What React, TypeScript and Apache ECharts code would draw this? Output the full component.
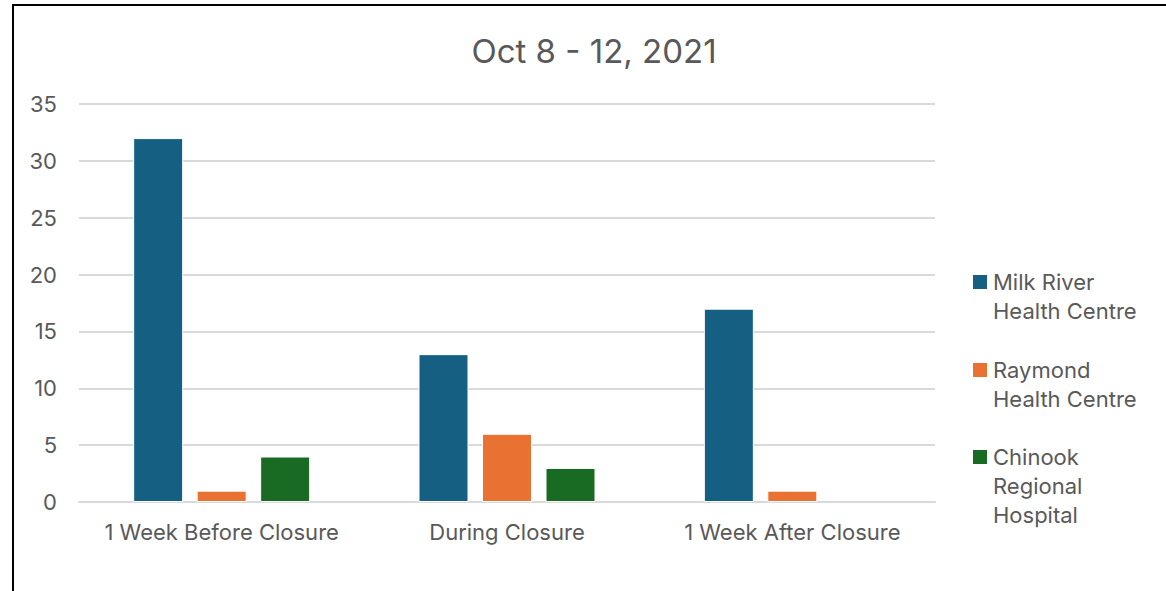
import React, { useEffect, useRef } from "react";
import * as echarts from "echarts";

const title = "Oct 8 - 12, 2021";
const categories = ["1 Week Before Closure", "During Closure", "1 Week After Closure"];
const seriesNames = ["Milk River Health Centre", "Raymond Health Centre", "Chinook Regional Hospital"];
const legendLines = [["Milk River", "Health Centre"], ["Raymond", "Health Centre"], ["Chinook", "Regional", "Hospital"]];
const milkRiver = [32, 13, 17];
const raymond = [1, 6, 1];
const chinook = [4, 3, 0];
const colors = ["#156082", "#E97132", "#196B24"];
const yTicks = { min: 0, max: 35, interval: 5 };

const FONT = "Inter";
const TEXT = "#595959";

export default function App() {
  const ref = useRef<HTMLDivElement>(null);
  useEffect(() => {
    if (!ref.current) return;
    const chart = echarts.init(ref.current, undefined, { renderer: "svg" });
    const values = [milkRiver, raymond, chinook];
    const legendTops = [282, 370, 457];
    const legendGraphics: any[] = [];
    legendLines.forEach((lines, i) => {
      legendGraphics.push({
        type: "rect",
        shape: { x: 973, y: legendTops[i] - 7, width: 14, height: 14 },
        style: { fill: colors[i] },
      });
      lines.forEach((ln, j) => {
        legendGraphics.push({
          type: "text",
          x: 993,
          y: legendTops[i] + j * 29,
          style: {
            text: ln,
            fill: TEXT,
            font: `22px '${FONT}'`,
            verticalAlign: "middle",
            align: "left",
          },
        });
      });
    });
    chart.setOption({
      animation: false,
      backgroundColor: "#ffffff",
      title: {
        text: title,
        left: 589,
        top: 29,
        textAlign: "center",
        textStyle: { color: TEXT, fontFamily: FONT, fontSize: 33, fontWeight: "normal" },
      },
      grid: { left: 79, right: 231, top: 104, bottom: 89, containLabel: false },
      xAxis: {
        type: "category",
        data: categories,
        axisLine: { lineStyle: { color: "#d9d9d9", width: 2 } },
        axisTick: { show: false },
        axisLabel: { color: TEXT, fontFamily: FONT, fontSize: 22, margin: 19, interval: 0 },
      },
      yAxis: {
        type: "value",
        min: yTicks.min,
        max: yTicks.max,
        interval: yTicks.interval,
        axisLine: { show: false },
        axisTick: { show: false },
        axisLabel: { color: TEXT, fontFamily: FONT, fontSize: 22, margin: 22 },
        splitLine: { lineStyle: { color: "#d9d9d9", width: 2 } },
      },
      series: seriesNames.map((name, i) => ({
        name,
        type: "bar",
        data: values[i].map((v) => ({
          value: v,
          itemStyle: { borderWidth: v === 0 ? 0 : 1 },
        })),
        barWidth: 50,
        barGap: "27%",
        itemStyle: { color: colors[i], borderColor: "#ffffff", borderWidth: 1 },
      })),
      graphic: [
        {
          type: "line",
          shape: { x1: 13, y1: 5, x2: 13, y2: 591 },
          style: { stroke: "#000000", lineWidth: 2 },
        },
        {
          type: "line",
          shape: { x1: 12, y1: 5, x2: 1166, y2: 5 },
          style: { stroke: "#000000", lineWidth: 2 },
        },
        ...legendGraphics,
      ],
    });
    return () => chart.dispose();
  }, []);
  return (
    <div
      ref={ref}
      style={{ position: "fixed", left: 0, top: 0, width: 1166, height: 591 }}
    />
  );
}
